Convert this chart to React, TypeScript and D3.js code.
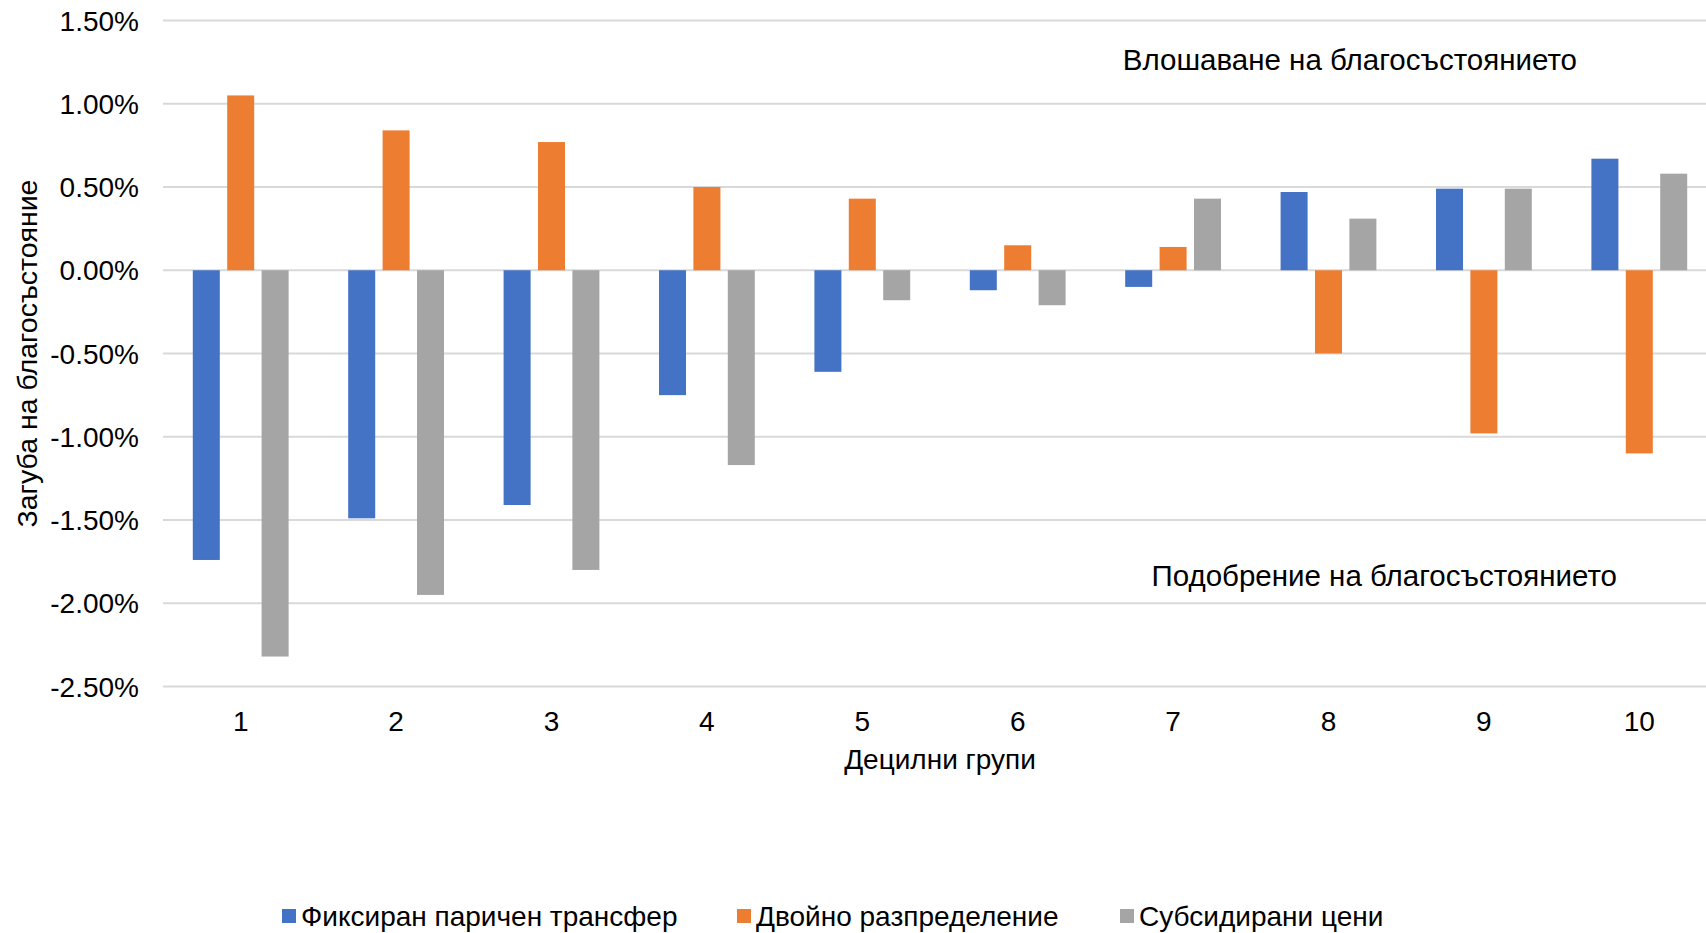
import * as d3 from "d3";
import React from "react";

// decile groups and the three policy scenarios (welfare loss, %)
const deciles = ["1", "2", "3", "4", "5", "6", "7", "8", "9", "10"];
const seriesNames = ["Фиксиран паричен трансфер", "Двойно разпределение", "Субсидирани цени"];
const fixedTransfer = [-1.74, -1.49, -1.41, -0.75, -0.61, -0.12, -0.1, 0.47, 0.49, 0.67];
const dualDistribution = [1.05, 0.84, 0.77, 0.5, 0.43, 0.15, 0.14, -0.5, -0.98, -1.1];
const subsidizedPrices = [-2.32, -1.95, -1.8, -1.17, -0.18, -0.21, 0.43, 0.31, 0.49, 0.58];
const yTicks = [1.5, 1.0, 0.5, 0.0, -0.5, -1.0, -1.5, -2.0, -2.5];
const colors = ["#4472C4", "#ED7D31", "#A5A5A5"];

const W = 1706;
const H = 933;
const FONT = "'Liberation Sans', Arial, sans-serif";

export default function App() {
  const values = [fixedTransfer, dualDistribution, subsidizedPrices];

  const y = d3.scaleLinear().domain([-2.5, 1.5]).range([686.5, 20.5]);
  const x0 = d3.scaleBand<string>().domain(deciles).range([163, 1717]);
  const x1 = d3
    .scaleBand<string>()
    .domain(seriesNames)
    .range([-51.6, 51.6])
    .paddingInner(0.215)
    .paddingOuter(0.1075);

  const left = 163;
  const right = 1717;
  // excel style: plain hyphen for negatives
  const fmt = (t: number) => d3.format(".2f")(t).replace("\u2212", "-") + "%";

  return (
    <svg
      width={W}
      height={H}
      style={{ position: "absolute", left: 0, top: 0, background: "#fff" }}
      fontFamily={FONT}
    >
      <g>
        {yTicks.map((t) => (
          <g key={t}>
            <line x1={left} x2={right} y1={y(t)} y2={y(t)} stroke="#d9d9d9" strokeWidth={2} />
            <text x={139} y={y(t)} dy="0.36em" textAnchor="end" fontSize={28} fill="#000">
              {fmt(t)}
            </text>
          </g>
        ))}
      </g>

      <g>
        {deciles.map((d, i) => (
          <g key={d} transform={`translate(${(x0(d) ?? 0) + x0.bandwidth() / 2},0)`}>
            {seriesNames.map((s, j) => {
              const v = values[j][i];
              const y0 = y(0);
              const yv = y(v);
              return (
                <rect
                  key={s}
                  x={x1(s)}
                  width={x1.bandwidth()}
                  y={Math.min(y0, yv)}
                  height={Math.abs(yv - y0)}
                  fill={colors[j]}
                />
              );
            })}
            <text x={0} y={721} dy="0.36em" textAnchor="middle" fontSize={28}>
              {d}
            </text>
          </g>
        ))}
      </g>

      <text x={(left + right) / 2} y={759} dy="0.36em" textAnchor="middle" fontSize={28}>
        Децилни групи
      </text>

      <text
        transform={`translate(27,${(y(1.5) + y(-2.5)) / 2}) rotate(-90)`}
        dy="0.36em"
        textAnchor="middle"
        fontSize={28.5}
      >
        Загуба на благосъстояние
      </text>

      <text x={1577} y={70} textAnchor="end" fontSize={29.5}>
        Влошаване на благосъстоянието
      </text>
      <text x={1617} y={586} textAnchor="end" fontSize={29.5}>
        Подобрение на благосъстоянието
      </text>

      <g>
        {seriesNames.map((s, j) => {
          const lx = [282, 737, 1120][j];
          return (
            <g key={s}>
              <rect x={lx} y={909} width={14} height={14} fill={colors[j]} />
              <text x={lx + 19} y={916} dy="0.36em" fontSize={28}>
                {s}
              </text>
            </g>
          );
        })}
      </g>
    </svg>
  );
}
